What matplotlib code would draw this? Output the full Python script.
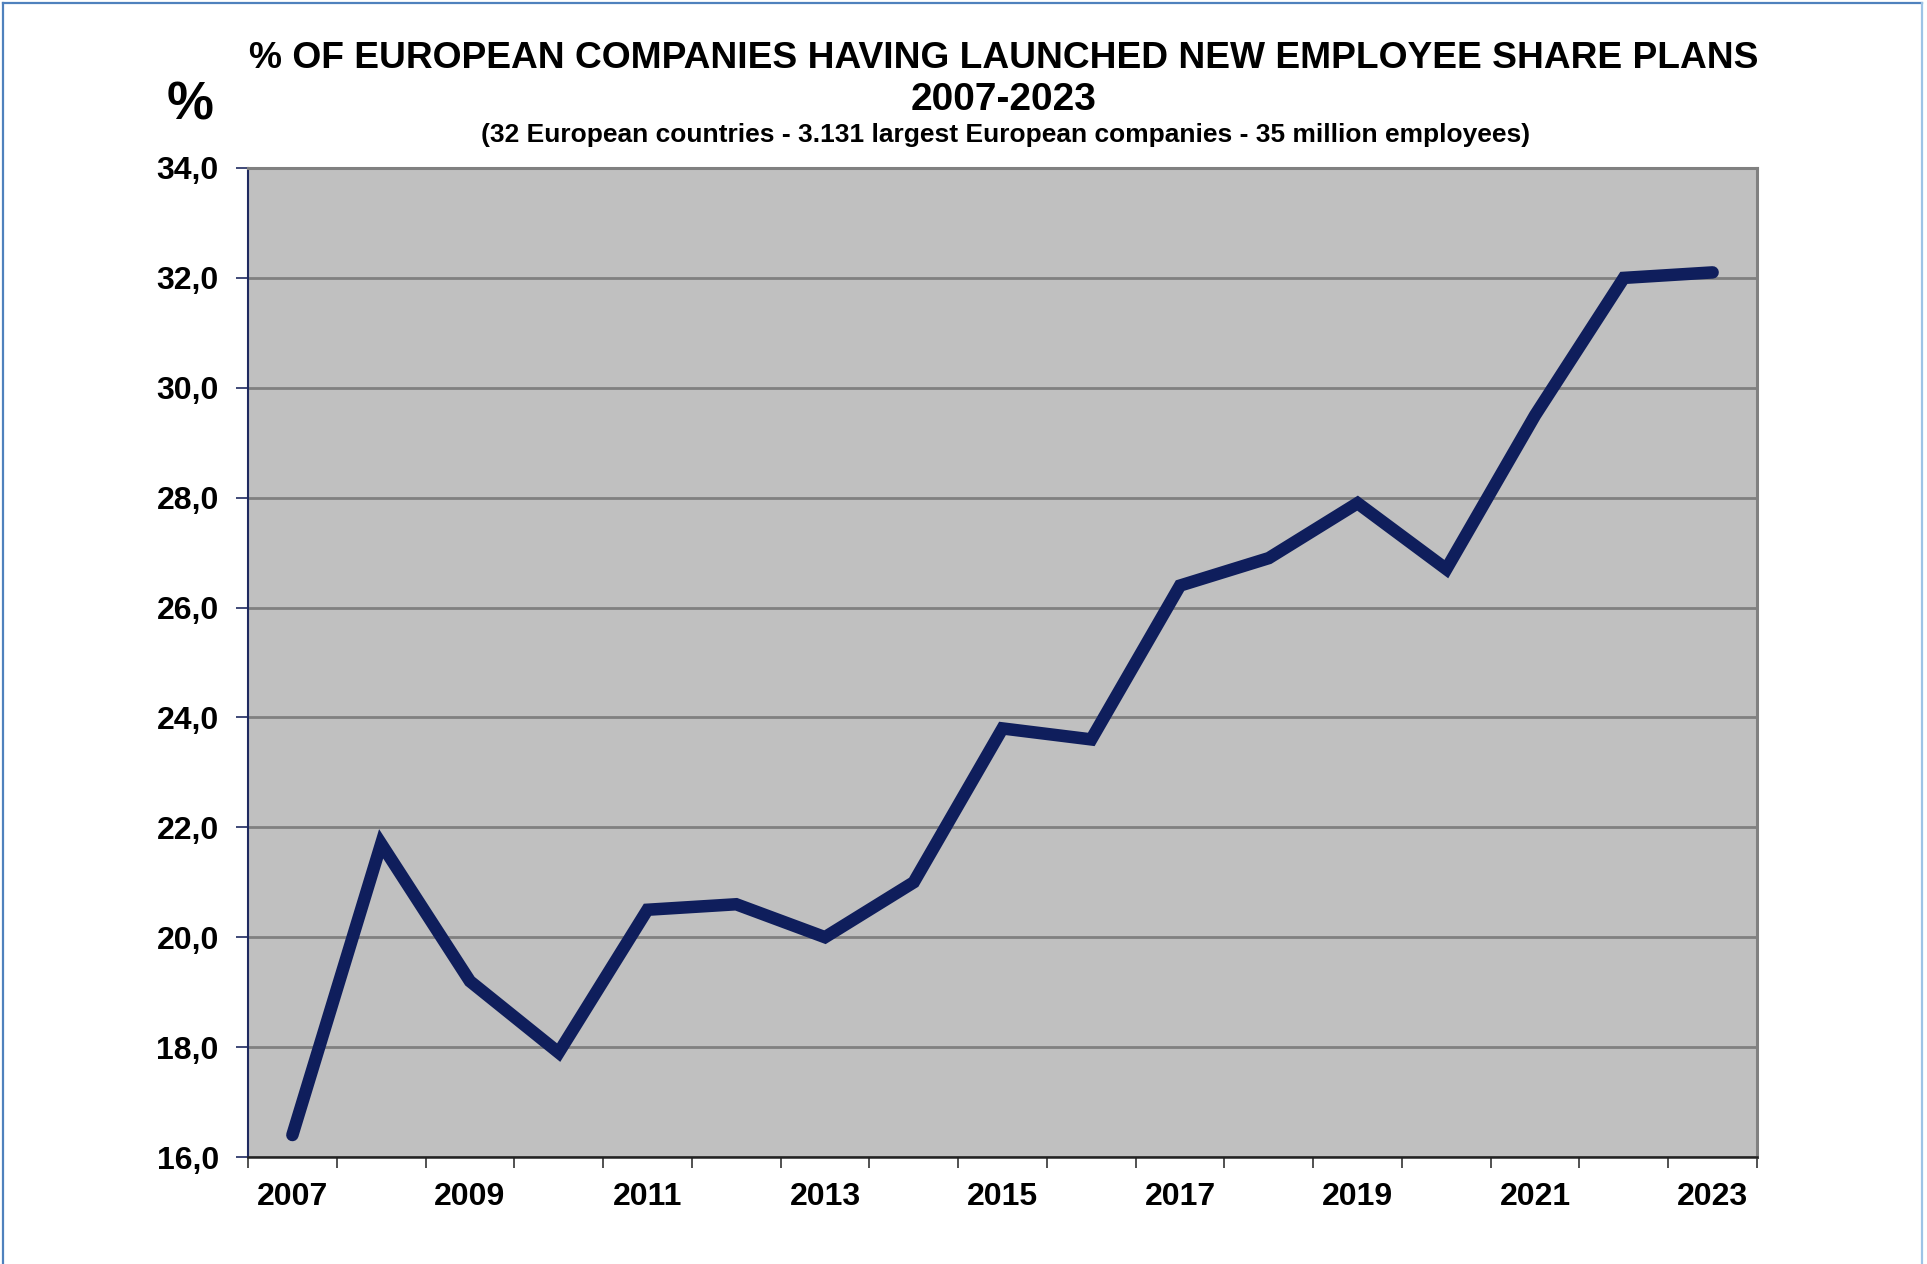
"""
% of European companies having launched new employee share plans, 2007-2023
- Excel style line chart: grey plot area, category axis with ticks between years
"""

import numpy as np
import matplotlib
matplotlib.use('Agg')
import matplotlib.pyplot as plt
from matplotlib.lines import Line2D
from matplotlib.ticker import FixedLocator, FuncFormatter

#=================================================================
# Data

years = list(range(2007, 2024))
share_pct = [16.4, 21.7, 19.2, 17.9, 20.5, 20.6, 20.0, 21.0, 23.8, 23.6,
             26.4, 26.9, 27.9, 26.7, 29.5, 32.0, 32.1]
ytick_vals = [16, 18, 20, 22, 24, 26, 28, 30, 32, 34]
xlabel_years = [2007, 2009, 2011, 2013, 2015, 2017, 2019, 2021, 2023]

title1 = '% OF EUROPEAN COMPANIES HAVING LAUNCHED NEW EMPLOYEE SHARE PLANS'
title2 = '2007-2023'
subtitle = '(32 European countries - 3.131 largest European companies - 35 million employees)'

#=================================================================

plt.rcParams['font.family'] = ['Liberation Sans', 'DejaVu Sans']

W, H, mydpi = 1927, 1264, 100
fig = plt.figure(figsize=(W/mydpi, H/mydpi), dpi=mydpi)

# plot area in pixels: x 248..1757, y 168..1157
ax = fig.add_axes([248/W, 1-1157/H, (1757-248)/W, (1157-168)/H])
ax.set_facecolor('#C0C0C0')

# category axis: year i sits at position i, slots from -0.5 to n-0.5
xpos = np.arange(len(years))
ax.plot(xpos, share_pct, color='#0F1E5C', lw=9,
        solid_capstyle='round', solid_joinstyle='miter', zorder=3)

ax.set_xlim(-0.5, len(years)-0.5)
ax.set_ylim(16, 34)

# grid
ax.yaxis.set_major_locator(FixedLocator(ytick_vals))
ax.yaxis.set_major_formatter(FuncFormatter(lambda v, p: ('%.1f' % v).replace('.', ',')))
ax.grid(axis='y', color='#808080', lw=2, zorder=1)
ax.set_axisbelow(True)

# x ticks between categories, labels on every other category
ax.xaxis.set_major_locator(FixedLocator(np.arange(-0.5, len(years), 1.0)))
ax.xaxis.set_major_formatter(FuncFormatter(lambda v, p: ''))
ax.xaxis.set_minor_locator(FixedLocator([years.index(y) for y in xlabel_years]))
ax.xaxis.set_minor_formatter(FuncFormatter(lambda v, p: str(years[int(round(v))])))
ax.tick_params(axis='x', which='major', length=8, width=1.2, color='#333333', direction='out')
ax.tick_params(axis='x', which='minor', length=0, pad=18, labelsize=23)
ax.tick_params(axis='y', length=9, width=1.2, color='#1F2A60', pad=12, labelsize=23)
for lab in ax.get_xticklabels(minor=True) + ax.get_yticklabels():
    lab.set_fontweight('bold')

for s in ['top', 'right']:
    ax.spines[s].set_color('#808080')
    ax.spines[s].set_linewidth(2.2)
ax.spines['left'].set_color('#1F2A60')
ax.spines['left'].set_linewidth(1.5)
ax.spines['bottom'].set_color('#222222')
ax.spines['bottom'].set_linewidth(1.8)

# titles (nudged down a little: va='center' counts the descender space)
fig.text(1004/W, 1-59/H, title1, ha='center', va='center', fontsize=26.7, fontweight='bold')
fig.text(1004/W, 1-100/H, title2, ha='center', va='center', fontsize=28, fontweight='bold')
fig.text(1006/W, 1-135/H, subtitle, ha='center', va='center', fontsize=19, fontweight='bold')
fig.text(190/W, 1-105/H, '%', ha='center', va='center', fontsize=38, fontweight='bold')

# frame round the chart: left, top and right edges only
fr = fig.transFigure
fig.lines.append(Line2D([3/W, 3/W], [0, 1-3/H], transform=fr, color='#4F81BD', lw=1.6))
fig.lines.append(Line2D([3/W, 1922/W], [1-3/H, 1-3/H], transform=fr, color='#4F81BD', lw=1.6))
fig.lines.append(Line2D([1922/W, 1922/W], [0, 1-3/H], transform=fr, color='#9DC3E6', lw=1.6))

plt.savefig('out.png', dpi=mydpi)
